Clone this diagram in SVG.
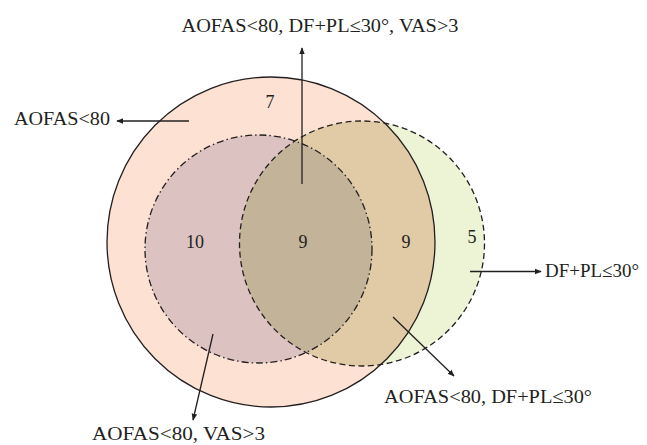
<svg xmlns="http://www.w3.org/2000/svg" width="647" height="445" viewBox="0 0 647 445">
<defs>
<style>
.t{font-family:"Liberation Serif","Times New Roman",serif;font-size:19px;fill:#231f20}
.n{font-family:"Liberation Serif","Times New Roman",serif;font-size:18px;fill:#231f20;text-anchor:middle}
.c{stroke:#231f20;stroke-width:1.3;fill:none}
.a{stroke:#231f20;stroke-width:1.3;fill:none;marker-end:url(#ah)}
</style>
<marker id="ah" viewBox="0 0 10 10" refX="9" refY="5" markerWidth="7" markerHeight="7" markerUnits="userSpaceOnUse" orient="auto">
<path d="M0,1 L10,5 L0,9 Z" fill="#231f20"/>
</marker>
<clipPath id="cBig"><ellipse cx="271" cy="242" rx="164" ry="165"/></clipPath>
<clipPath id="cGreen"><ellipse cx="362" cy="243.5" rx="122.5" ry="122.5"/></clipPath>
</defs>
<g id="fills">
<ellipse cx="271" cy="242" rx="164" ry="165" fill="#fde1d2"/>
<ellipse cx="362" cy="243.5" rx="122.5" ry="122.5" fill="#edf3d5"/>
<ellipse cx="362" cy="243.5" rx="122.5" ry="122.5" fill="#e1caa6" clip-path="url(#cBig)"/>
<ellipse cx="258.5" cy="249" rx="113.5" ry="114" fill="#dcc2c0"/>
<ellipse cx="258.5" cy="249" rx="113.5" ry="114" fill="#c3b499" clip-path="url(#cGreen)"/>
</g>
<g id="node-aofas">
<ellipse class="c" cx="271" cy="242" rx="164" ry="165"/>
<text class="n" x="270" y="108">7</text>
</g>
<g id="node-vas">
<ellipse class="c" cx="258.5" cy="249" rx="113.5" ry="114" stroke-dasharray="7,3,1.5,3"/>
<text class="n" x="195" y="248">10</text>
</g>
<g id="node-dfpl">
<ellipse class="c" cx="362" cy="243.5" rx="122.5" ry="122.5" stroke-dasharray="6,3.5"/>
<text class="n" x="472" y="243">5</text>
</g>
<g id="region-all"><text class="n" x="303" y="248">9</text></g>
<g id="region-aofas-dfpl"><text class="n" x="406" y="248">9</text></g>
<g id="connectors">
<line class="a" x1="302" y1="184" x2="302" y2="48"/>
<line class="a" x1="189" y1="121" x2="117" y2="121"/>
<line class="a" x1="470" y1="271.5" x2="541" y2="271.5"/>
<line class="a" x1="393" y1="317" x2="454" y2="376"/>
<line class="a" x1="213" y1="334" x2="193" y2="420"/>
</g>
<g id="labels">
<text class="t" x="320" y="32" text-anchor="middle" textLength="277" lengthAdjust="spacingAndGlyphs">AOFAS&lt;80, DF+PL≤30°, VAS&gt;3</text>
<text class="t" x="14" y="125" textLength="96" lengthAdjust="spacingAndGlyphs">AOFAS&lt;80</text>
<text class="t" x="545" y="277" textLength="94" lengthAdjust="spacingAndGlyphs">DF+PL≤30°</text>
<text class="t" x="384" y="403" textLength="208" lengthAdjust="spacingAndGlyphs">AOFAS&lt;80, DF+PL≤30°</text>
<text class="t" x="92" y="440" textLength="173" lengthAdjust="spacingAndGlyphs">AOFAS&lt;80, VAS&gt;3</text>
</g>
</svg>
